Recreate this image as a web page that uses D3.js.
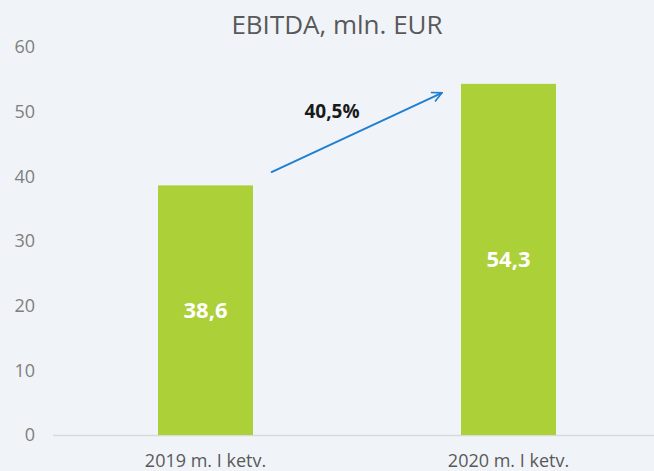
<!DOCTYPE html>
<html>
<head>
<meta charset="utf-8">
<script src="https://cdn.jsdelivr.net/npm/d3@7"></script>
<style>
  html, body { margin: 0; padding: 0; background: #f0f4f8; }
  svg { display: block; font-family: "Open Sans", "Noto Sans", sans-serif; }
</style>
</head>
<body>
<div id="chart"></div>
<script>

// Chart data :
var categories = ["2019 m. I ketv.", "2020 m. I ketv."];
var values = [38.6, 54.3];
var valueLabels = ["38,6", "54,3"];
var yTicks = [0, 10, 20, 30, 40, 50, 60];
var growthLabel = "40,5%";

var width = 654;
var height = 471;

var svg = d3.select("#chart").append("svg")
    .attr("width", width)
    .attr("height", height);

svg.append("rect")
    .attr("width", width)
    .attr("height", height)
    .style("fill", "#f0f4f8");

// Scales :
var y = d3.scaleLinear().domain([0, 60]).range([435, 47]);
var x = d3.scaleBand().domain(categories).range([54, 660]);
var barWidth = 95;

// Title :
svg.append("text")
    .attr("x", 337)
    .attr("y", 34)
    .attr("text-anchor", "middle")
    .style("font-size", "26px")
    .style("fill", "#595959")
    .text("EBITDA, mln. EUR");

// Y axis labels (no axis line, just tick text) :
var yAxis = d3.axisLeft(y).tickValues(yTicks).tickSize(0).tickPadding(0);
var gy = svg.append("g")
    .attr("transform", "translate(35,0)")
    .call(yAxis);
gy.select(".domain").remove();
gy.selectAll("text")
    .style("font-size", "18px")
    .style("font-family", "\"Open Sans\", sans-serif")
    .style("fill", "#7f7f7f");

// Baseline :
svg.append("line")
    .attr("x1", 53)
    .attr("x2", width)
    .attr("y1", y(0) + 0.5)
    .attr("y2", y(0) + 0.5)
    .style("stroke", "#d9d9d9")
    .style("stroke-width", 1.5);

// X axis labels :
var xAxis = d3.axisBottom(x).tickSize(0).tickPadding(0);
var gx = svg.append("g")
    .attr("transform", "translate(0,454)")
    .call(xAxis);
gx.select(".domain").remove();
gx.selectAll("text")
    .style("font-size", "18px")
    .style("font-family", "\"Open Sans\", sans-serif")
    .style("fill", "#595959");

// Bars :
svg.selectAll(".bar")
    .data(values)
    .enter().append("rect")
    .attr("class", "bar")
    .attr("x", function(d, i) { return x(categories[i]) + x.bandwidth()/2 - barWidth/2; })
    .attr("y", function(d) { return y(d); })
    .attr("width", barWidth)
    .attr("height", function(d) { return y(0) - y(d); })
    .style("fill", "#acd037");

// Value labels inside bars :
svg.selectAll(".val")
    .data(values)
    .enter().append("text")
    .attr("class", "val")
    .attr("x", function(d, i) { return x(categories[i]) + x.bandwidth()/2; })
    .attr("y", function(d) { return (y(d) + y(0))/2 + 8; })
    .attr("text-anchor", "middle")
    .style("font-size", "22px")
    .style("font-weight", "bold")
    .style("fill", "#ffffff")
    .text(function(d, i) { return valueLabels[i]; });

// Growth arrow :
svg.append("defs").append("marker")
    .attr("id", "arrowhead")
    .attr("viewBox", "0 0 12 12")
    .attr("refX", 11)
    .attr("refY", 6)
    .attr("markerWidth", 12)
    .attr("markerHeight", 12)
    .attr("markerUnits", "userSpaceOnUse")
    .attr("orient", "auto")
  .append("path")
    .attr("d", "M1,1 L11,6 L1,11")
    .style("fill", "none")
    .style("stroke", "#1f7fd0")
    .style("stroke-width", 1.6);

var x0 = x(categories[0]) + x.bandwidth()/2 + barWidth/2 + 18;
var x1 = x(categories[1]) + x.bandwidth()/2 - barWidth/2 - 19;
svg.append("line")
    .attr("x1", x0)
    .attr("y1", y(values[0]) - 13)
    .attr("x2", x1)
    .attr("y2", y(values[1]) + 9)
    .style("stroke", "#1f7fd0")
    .style("stroke-width", 2)
    .attr("marker-end", "url(#arrowhead)");

svg.append("text")
    .attr("x", 332)
    .attr("y", 118)
    .attr("text-anchor", "middle")
    .style("font-size", "19px")
    .style("font-weight", "bold")
    .style("fill", "#1a1a1a")
    .text(growthLabel);

</script>
</body>
</html>
